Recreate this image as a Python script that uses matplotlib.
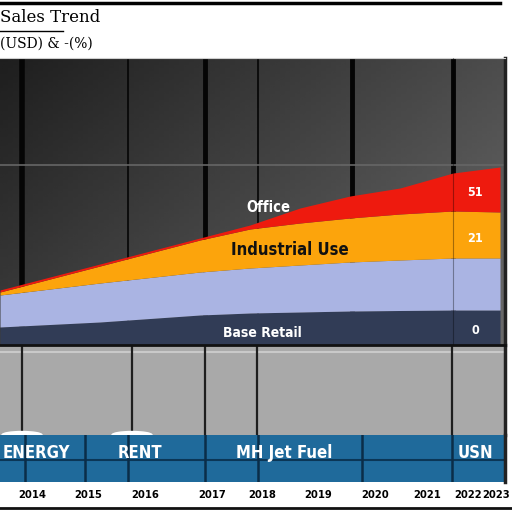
import numpy as np
import matplotlib.pyplot as plt
from matplotlib.patches import Ellipse

# periods along the x axis (one unit = one period)
periods = [0, 2, 4, 5, 6, 7, 8, 9.06, 10]

# stacked layer thicknesses, bottom to top
base_retail = [18, 23, 30, 32, 33, 34, 34.5, 35, 35]
residential = [32, 39, 43, 45, 47, 49, 50.5, 52, 52]
industrial = [3, 17, 32, 39, 42, 44, 46, 47, 46]
office = [2, 2, 2, 4, 15, 22, 26, 38, 45]

end_values = ['0', '', '21', '51']

years = ['2014', '2015', '2016', '2017', '2018', '2019', '2020', '2021', '2022', '2023']
band_labels = ['ENERGY', 'RENT', 'MH Jet Fuel', 'USN']

colors = ['#313c56', '#aab4e3', '#fca40c', '#ee1a0e']

W = 512
def px_axes(fig, x0, y0, x1, y1):
    return fig.add_axes([x0 / W, 1 - y1 / W, (x1 - x0) / W, (y1 - y0) / W])

def ux(p):  # pixel column -> period units
    return p / 50

bold = dict(family='DejaVu Sans', weight='bold', stretch='condensed')

fig = plt.figure(figsize=(5.12, 5.12), dpi=100)
fig.patch.set_facecolor('white')

# ---- main stacked area panel
ax = px_axes(fig, 0, 58, 505, 345)
yy, xx = np.mgrid[0:1:100j, 0:1:100j]
grad = 0.12 + 0.18 * xx + 0.12 * yy
ax.imshow(grad, extent=[0, 1, 0, 1], transform=ax.transAxes, aspect='auto',
          cmap='gray', vmin=0, vmax=1, zorder=0)

for p, lw in [(22, 4), (128, 1.2), (205, 3.5), (258, 1.2), (352, 3.5), (453, 3.5)]:
    ax.axvline(ux(p), color='#050505', lw=lw, zorder=1)
ax.axhline(345 - 165, color='#666666', lw=1.2, zorder=1)

layers = [base_retail, residential, industrial, office]
bottom = np.zeros(len(periods))
for vals, col in zip(layers, colors):
    top = bottom + np.array(vals)
    ax.fill_between(periods, bottom, top, color=col, lw=0, zorder=2)
    bottom = top
ax.axvline(ux(453), color='#000000', lw=0.8, alpha=0.35, zorder=3)

ax.text(ux(268), 345 - 207, 'Office', color='white', fontsize=10.5, ha='center', va='center', zorder=4, **bold)
ax.text(ux(290), 345 - 250, 'Industrial Use', color='#111111', fontsize=12, ha='center', va='center', zorder=4, **bold)
ax.text(ux(262), 345 - 333, 'Base Retail', color='white', fontsize=10, ha='center', va='center', zorder=4, **bold)
for v, py in zip(end_values, [330, 0, 238, 192]):
    if v:
        ax.text(ux(475), 345 - py, v, color='white', fontsize=9, ha='center', va='center', zorder=4, **bold)

ax.set_xlim(0, ux(505))
ax.set_ylim(0, 287)
ax.set_xticks([])
ax.set_yticks([])
for s in ['left', 'bottom']:
    ax.spines[s].set_visible(False)
ax.spines['top'].set_color('#cfcfcf')
ax.spines['right'].set_color('#222222')
ax.spines['right'].set_linewidth(2.5)

# ---- gray band
gx = px_axes(fig, 0, 345, 505, 435)
gx.set_facecolor('#a9a9a9')
gx.set_xlim(0, 505)
gx.set_ylim(435, 345)
gx.axhline(352, color='#c9c9c9', lw=1.5)
for p in [22, 132, 205, 257, 452]:
    gx.axvline(p, color='#1e1e1e', lw=1.6)
for p in [22, 132]:
    gx.add_patch(Ellipse((p, 435), 40, 7, color='white', zorder=3))
gx.set_xticks([])
gx.set_yticks([])
for s in gx.spines.values():
    s.set_visible(False)
gx.spines['top'].set_visible(True)
gx.spines['top'].set_color('#111111')
gx.spines['top'].set_linewidth(2)
gx.spines['right'].set_visible(True)
gx.spines['right'].set_color('#222222')
gx.spines['right'].set_linewidth(2.5)

# ---- blue band with tick labels
bx = px_axes(fig, 0, 435, 505, 482)
bx.set_facecolor('#1f6a9b')
bx.set_xlim(0, ux(505))
bx.set_ylim(482, 435)
bx.axhline(460, color='#0b3656', lw=1.5)
for p in [25, 85, 128, 205, 258, 362, 452]:
    bx.axvline(ux(p), color='#0b2d48', lw=1.8)
for lab, p in zip(band_labels, [3, 118, 236, 458]):
    bx.text(ux(p), 453, lab, color='white', fontsize=12, ha='left', va='center', **bold)
tick_px = [32, 88, 145, 212, 262, 318, 375, 427, 468, 496]
bx.set_xticks([ux(p) for p in tick_px], years)
for t in bx.get_xticklabels():
    t.set_fontfamily('DejaVu Sans')
    t.set_fontstretch('condensed')
    t.set_fontweight('bold')
    t.set_fontsize(8)
bx.tick_params(axis='x', length=0, pad=6)
bx.set_yticks([])
for s in bx.spines.values():
    s.set_visible(False)
bx.spines['right'].set_visible(True)
bx.spines['right'].set_color('#222222')
bx.spines['right'].set_linewidth(2.5)

# ---- header
fig.add_artist(plt.Line2D([0, 500 / W], [1 - 3 / W] * 2, color='black', lw=2.5))
fig.add_artist(plt.Line2D([0, 63 / W], [1 - 31 / W] * 2, color='black', lw=1))
fig.add_artist(plt.Line2D([0, 1], [1 - 508 / W] * 2, color='#111111', lw=2))
fig.text(0, 1 - 18 / W, 'Sales Trend', fontsize=12, family='DejaVu Serif', va='center', ha='left')
fig.text(0, 1 - 44 / W, '(USD) & -(%)', fontsize=10, family='DejaVu Serif', va='center', ha='left')

fig.savefig('out.png', dpi=100)
